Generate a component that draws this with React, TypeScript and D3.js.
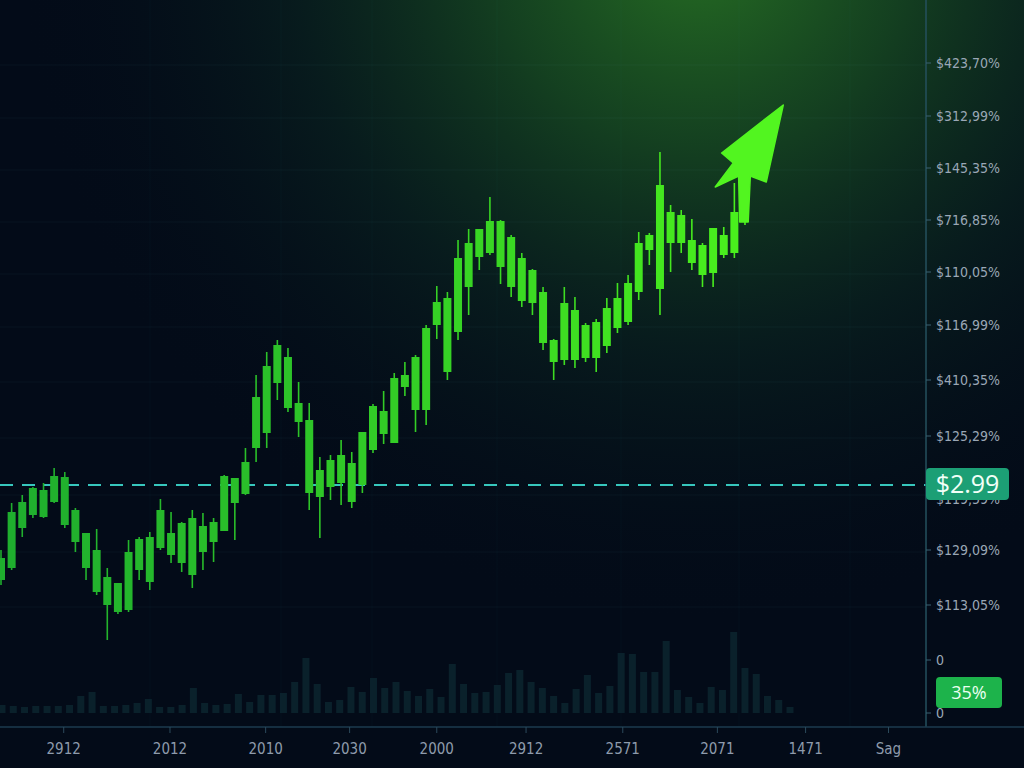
import React from "react";
import * as d3 from "d3";

// ---- data (price units) ----
const openV = [147,159,199,212,210,225,202,185,159,135,122,115,117,157,145,179,172,164,152,175,185,196,224,233,279,294,344,319,305,234,230,240,244,225,242,277,293,284,340,317,317,402,355,395,440,470,474,460,440,426,424,384,365,367,367,369,369,381,399,405,435,477,438,484,484,464,452,454,472,474,505];
const closeV = [169,215,225,239,237,251,250,217,194,177,150,144,175,188,190,217,194,204,209,201,205,251,249,265,330,361,382,370,324,307,257,267,272,264,295,321,316,349,352,370,399,425,429,469,484,498,506,506,490,469,457,435,387,424,417,402,405,419,429,444,484,492,542,515,512,487,482,499,492,515,527];
const highV = [177,224,232,240,244,259,255,219,194,198,159,144,187,190,195,228,215,205,217,214,209,252,249,279,352,375,387,379,345,324,270,272,287,275,295,323,336,354,365,372,402,441,435,487,498,498,530,507,492,474,458,440,388,440,430,404,408,429,444,452,495,494,575,522,517,508,484,499,500,544,542];
const lowV = [142,157,190,209,209,224,199,175,147,132,87,113,115,147,137,177,164,155,139,157,165,196,187,232,265,279,327,315,290,217,189,227,222,219,234,274,283,284,331,295,302,388,347,387,412,457,472,443,430,420,412,377,347,362,359,365,355,374,394,402,427,462,412,455,474,457,440,440,469,469,502];
const volumeV = [8,7,6,7,7,7,8,17,21,7,7,8,10,14,6,6,8,25,10,8,9,19,11,18,18,20,31,55,29,11,13,26,21,35,25,31,22,17,24,16,49,29,20,21,28,40,43,31,25,17,10,24,38,20,27,60,59,41,41,72,23,16,10,26,23,81,45,39,17,13,6];

const yTickValues = [664,611,559,507,455,402,347,291,234,177,122,67,14];
const yTickLabels = ["$423,70%","$312,99%","$145,35%","$716,85%","$110,05%","$116,99%","$410,35%","$125,29%","$119,59%","$129,09%","$113,05%","0","0"];
const xTickIdx = [5.9,15.9,24.9,32.8,41.0,49.4,58.5,67.4,75.7,83.5];
const xTickLabels = ["2912","2012","2010","2030","2000","2912","2571","2071","1471","Sag"];

const refPrice = 242;
const refLabel = "$2.99";
const volLabel = "35%";

// arrow annotation in (index, price)
const arrowPts: [number, number][] = [
  [73.6, 622], [67.8, 574], [68.9, 564], [67.2, 540], [69.4, 551], [69.5, 505],
  [70.3, 505], [70.5, 551], [72.0, 545],
];

const W = 1024, H = 768;
const AXIS_X = 926, AXIS_Y = 727;

export default function App() {
  const x = d3.scaleLinear().domain([0, 70]).range([1, 745]);
  const y = d3.scaleLinear().domain([0, 700]).range([727, 27]);
  const vx = d3.scaleLinear().domain([0, 70]).range([2, 790]);
  const vy = d3.scaleLinear().domain([0, 100]).range([713, 613]);
  const col = (i: number) => d3.interpolateRgb("#1fae2e", "#4af01d")(Math.pow(i / 70, 1.2));
  const cw = 8;
  const arrowPath = d3.line()(arrowPts.map(([i, p]) => [x(i), y(p)] as [number, number])) + "Z";
  const fontAxis = "'DejaVu Sans Condensed', 'DejaVu Sans', sans-serif";

  return (
    <svg width={W} height={H} style={{ position: "absolute", left: 0, top: 0 }}>
      <defs>
        <radialGradient id="glow" gradientUnits="userSpaceOnUse" cx={700} cy={-60} r={680}>
          <stop offset="0" stopColor="#2a7a24" stopOpacity={0.9} />
          <stop offset="0.3" stopColor="#1a5223" stopOpacity={0.75} />
          <stop offset="0.6" stopColor="#0c2b22" stopOpacity={0.5} />
          <stop offset="1" stopColor="#040c1a" stopOpacity={0} />
        </radialGradient>
      </defs>
      <rect width={W} height={H} fill="#030b18" />
      <rect width={W} height={H} fill="url(#glow)" />

      {/* grid */}
      {yTickValues.slice(0, 11).map((v, i) => (
        <line key={"gh" + i} x1={0} x2={AXIS_X} y1={y(v) + 2} y2={y(v) + 2} stroke="#5fb0b0" strokeOpacity={0.06} />
      ))}
      {[150, 281, 372, 497, 621, 739, 850].map((gx, i) => (
        <line key={"gv" + i} x1={gx} x2={gx} y1={0} y2={AXIS_Y} stroke="#5fb0b0" strokeOpacity={0.035} />
      ))}

      {/* volume */}
      {volumeV.map((v, i) => (
        <rect key={"v" + i} x={vx(i) - 3.5} y={vy(v)} width={7} height={vy(0) - vy(v)} fill="#0d2731" fillOpacity={0.8} />
      ))}

      {/* reference dashed line */}
      <line x1={0} x2={AXIS_X + 10} y1={y(refPrice)} y2={y(refPrice)} stroke="#37c7bd" strokeWidth={2} strokeDasharray="13 9" />

      {/* candles */}
      {openV.map((o, i) => {
        const c = closeV[i];
        const top = y(Math.max(o, c));
        const bot = y(Math.min(o, c));
        return (
          <g key={"c" + i} fill={col(i)} stroke={col(i)}>
            <line x1={x(i)} x2={x(i)} y1={y(highV[i])} y2={y(lowV[i])} strokeWidth={1.6} />
            <rect x={x(i) - cw / 2} y={top} width={cw} height={Math.max(1, bot - top)} stroke="none" />
          </g>
        );
      })}

      {/* arrow */}
      <path d={arrowPath} fill="#52f520" stroke="#52f520" strokeWidth={1.5} strokeLinejoin="round" />

      {/* axes */}
      <line x1={AXIS_X} x2={AXIS_X} y1={0} y2={AXIS_Y} stroke="#24505e" strokeWidth={1.5} />
      <line x1={0} x2={W} y1={AXIS_Y} y2={AXIS_Y} stroke="#1d3b4e" strokeWidth={1.5} />
      {yTickValues.map((v, i) => (
        <g key={"yt" + i}>
          <line x1={AXIS_X} x2={AXIS_X + 5} y1={y(v)} y2={y(v)} stroke="#3a6070" />
          <text x={936} y={y(v) + (i === 8 ? 6 : 0)} dy="0.35em" fill="#9aa7b6" fontSize={14} fontFamily={fontAxis}>{yTickLabels[i]}</text>
        </g>
      ))}
      {xTickIdx.map((t, i) => (
        <g key={"xt" + i}>
          <line x1={x(t)} x2={x(t)} y1={AXIS_Y} y2={AXIS_Y + 6} stroke="#2c4a5c" />
          <text x={x(t)} y={749} dy="0.35em" textAnchor="middle" fill="#8e9bac" fontSize={15} fontFamily={fontAxis}>{xTickLabels[i]}</text>
        </g>
      ))}

      {/* price tag */}
      <rect x={926} y={y(refPrice) - 17} width={83} height={32} rx={4} fill="#1c9f75" />
      <text x={967.5} y={y(refPrice) - 1} dy="0.35em" textAnchor="middle" fill="#f2fff8" fontSize={25} fontFamily="'Open Sans', sans-serif">{refLabel}</text>

      {/* volume tag */}
      <rect x={936} y={677} width={66} height={31} rx={4} fill="#1db34b" />
      <text x={969} y={692.5} dy="0.35em" textAnchor="middle" fill="#eafff0" fontSize={18} fontFamily="'Open Sans', sans-serif">{volLabel}</text>
    </svg>
  );
}
